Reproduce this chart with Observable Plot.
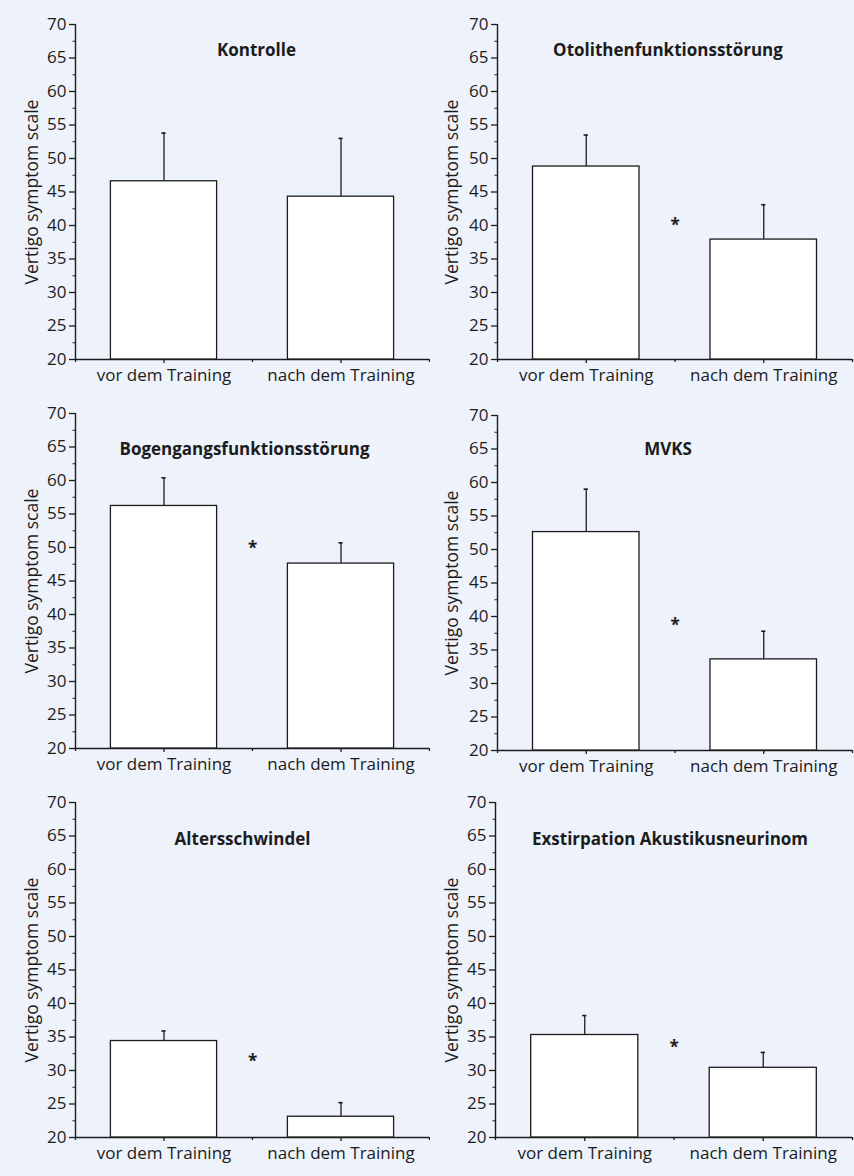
<!DOCTYPE html>
<html>
<head>
<meta charset="utf-8">
<script src="https://cdn.jsdelivr.net/npm/d3@7"></script>
<script src="https://cdn.jsdelivr.net/npm/@observablehq/plot@0.6"></script>
<style>
  html, body { margin: 0; padding: 0; background: #edf2fb; }
  #chart { position: relative; width: 854px; height: 1176px; background: #edf2fb; overflow: hidden; }
  .panel { position: absolute; }
  svg { background: transparent !important; }
</style>
</head>
<body>
<div id="chart"></div>
<script>
// ---- data ----
const groups = ["vor dem Training", "nach dem Training"];
const panelTitles = ["Kontrolle", "Otolithenfunktionsstörung", "Bogengangsfunktionsstörung", "MVKS", "Altersschwindel", "Exstirpation Akustikusneurinom"];
const meanVor   = [46.6, 48.8, 56.2, 52.6, 34.4, 35.3];
const meanNach  = [44.3, 37.9, 47.6, 33.6, 23.1, 30.4];
const upperVor  = [53.8, 53.5, 60.4, 59.0, 35.9, 38.2];
const upperNach = [53.0, 43.1, 50.7, 37.8, 25.2, 32.7];
const starY     = [null, 40.6, 50.5, 39.3, 31.9, 34.0];
const yTicks = [20, 25, 30, 35, 40, 45, 50, 55, 60, 65, 70];
const yMinorTicks = [22.5, 27.5, 32.5, 37.5, 42.5, 47.5, 52.5, 57.5, 62.5, 67.5];
const yLabel = "Vertigo symptom scale";

// ---- layout ----
const layout = [
  {left: 0,   top: 0,   width: 430, ml: 75, mr: 1, titleDy: 19, titleDx: 4},
  {left: 427, top: 0,   width: 427, ml: 70, mr: 2, titleDy: 19, titleDx: -7},
  {left: 0,   top: 389, width: 430, ml: 75, mr: 1, titleDy: 29, titleDx: -8},
  {left: 427, top: 391, width: 427, ml: 70, mr: 2, titleDy: 27, titleDx: -7},
  {left: 0,   top: 778, width: 430, ml: 75, mr: 1, titleDy: 30, titleDx: -10},
  {left: 427, top: 778, width: 427, ml: 68, mr: 2, titleDy: 30, titleDx: -4}
];

const ink = "#1c1c1c";
const font = "'Open Sans', sans-serif";
const chart = document.getElementById("chart");

panelTitles.forEach((title, p) => {
  const L = layout[p];
  const rows = groups.map((g, i) => ({i, group: g, mean: i === 0 ? meanVor[p] : meanNach[p], upper: i === 0 ? upperVor[p] : upperNach[p]}));
  const stars = starY[p] == null ? [] : [{y: starY[p]}];
  const plot = Plot.plot({
    width: L.width,
    height: 389,
    marginLeft: L.ml,
    marginRight: L.mr,
    marginTop: 24,
    marginBottom: 30,
    style: {fontFamily: font, fontSize: "17px", color: ink, background: "transparent"},
    x: {domain: [0, groups.length], axis: null},
    y: {domain: [20, 70], axis: null},
    marks: [
      // y axis
      Plot.axisY({ticks: yTicks, tickSize: 6, tickPadding: 3, label: null, fontSize: 17, stroke: ink, fill: ink, strokeWidth: 1.3}),
      Plot.axisY({ticks: yMinorTicks, tickSize: 2.5, text: null, label: null, stroke: ink}),
      Plot.text([yLabel], {frameAnchor: "left", textAnchor: "middle", lineAnchor: "middle", dx: -(L.ml - 32 + (L.left ? 7 : 0)), rotate: -90, fontSize: 17.5, fill: ink}),
      Plot.ruleX([0], {stroke: ink, strokeWidth: 1.4}),
      // x axis
      Plot.axisX({ticks: groups.map((g, i) => i + 0.5), tickFormat: d => groups[Math.floor(d)], tickSize: 4, tickPadding: 5, label: null, fontSize: 17, stroke: ink, fill: ink, strokeWidth: 1.3}),
      Plot.axisX({ticks: d3.range(groups.length + 1), tickSize: 3, text: null, label: null, stroke: ink, strokeWidth: 1.3}),
      Plot.ruleY([20], {stroke: ink, strokeWidth: 1.4}),
      // error bars
      Plot.ruleX(rows, {x: d => d.i + 0.5, y1: "mean", y2: "upper", stroke: ink, strokeWidth: 1.3}),
      Plot.ruleY(rows, {y: "upper", x1: d => d.i + 0.488, x2: d => d.i + 0.512, stroke: ink, strokeWidth: 1.6}),
      // bars
      Plot.rectY(rows, {x1: d => d.i + 0.2, x2: d => d.i + 0.8, y1: 20, y2: "mean", fill: "white", stroke: ink, strokeWidth: 1.3}),
      // significance
      Plot.text(stars, {x: 1, y: "y", text: () => "*", fontSize: 17, fontWeight: "bold", dy: 4, fill: ink}),
      // title
      Plot.text([title], {frameAnchor: "top", dy: L.titleDy, dx: L.titleDx, fontSize: 17, fontWeight: "bold", fill: ink})
    ]
  });
  const div = document.createElement("div");
  div.className = "panel";
  div.style.left = L.left + "px";
  div.style.top = L.top + "px";
  div.appendChild(plot);
  chart.appendChild(div);
});
</script>
</body>
</html>
